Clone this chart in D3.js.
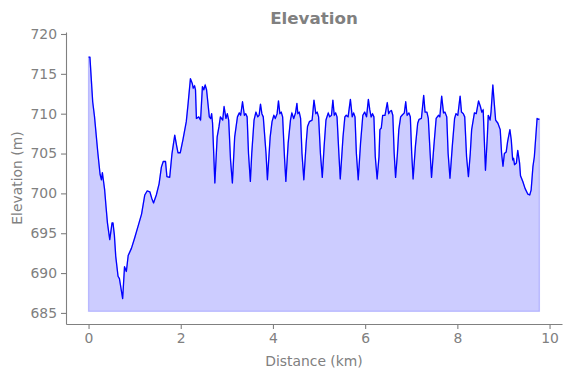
<!DOCTYPE html>
<html>
<head>
<meta charset="utf-8">
<script src="https://cdn.jsdelivr.net/npm/d3@7"></script>
<style>
  html, body { margin: 0; padding: 0; background: #fff; }
  svg { display: block; }
  text { font-family: "DejaVu Sans", sans-serif; }
</style>
</head>
<body>
<svg id="chart" width="571" height="378"></svg>
<script>
const distanceKm = [
  0.00,0.03,0.09,0.13,0.20,0.25,0.28,0.30,0.33,0.35,0.38,0.41,0.46,0.51,0.53,0.56,0.59,0.64,0.67,0.74,
  0.78,0.82,0.86,0.93,1.00,1.07,1.15,1.22,1.27,1.33,1.37,1.41,1.47,1.53,1.58,1.62,1.67,1.70,1.76,1.81,
  1.87,1.91,1.94,1.99,2.05,2.12,2.16,2.21,2.25,2.27,2.30,2.32,2.34,2.39,2.43,2.47,2.50,2.53,2.56,2.62,
  2.65,2.67,2.69,2.74,2.79,2.83,2.86,2.91,2.94,2.98,3.01,3.04,3.08,3.12,3.17,3.23,3.27,3.30,3.34,3.38,
  3.41,3.44,3.47,3.51,3.54,3.59,3.63,3.67,3.70,3.73,3.76,3.79,3.85,3.88,3.94,3.98,4.02,4.05,4.09,4.12,
  4.15,4.18,4.21,4.25,4.28,4.33,4.38,4.41,4.45,4.49,4.52,4.54,4.57,4.60,4.63,4.67,4.72,4.75,4.79,4.85,
  4.89,4.93,4.96,4.99,5.03,5.07,5.11,5.15,5.20,5.23,5.27,5.30,5.33,5.36,5.39,5.43,5.46,5.52,5.56,5.59,
  5.63,5.68,5.72,5.75,5.78,5.81,5.85,5.90,5.95,5.99,6.03,6.07,6.10,6.13,6.16,6.19,6.22,6.26,6.30,6.32,
  6.35,6.38,6.43,6.48,6.51,6.54,6.57,6.60,6.63,6.66,6.70,6.73,6.77,6.80,6.85,6.88,6.91,6.95,6.98,7.01,
  7.04,7.09,7.14,7.17,7.22,7.27,7.30,7.34,7.37,7.41,7.44,7.49,7.54,7.59,7.62,7.66,7.70,7.73,7.77,7.80,
  7.84,7.89,7.94,7.97,8.01,8.06,8.09,8.13,8.16,8.20,8.24,8.28,8.31,8.37,8.41,8.46,8.50,8.53,8.56,8.61,
  8.65,8.67,8.71,8.73,8.77,8.79,8.83,8.88,8.93,8.96,8.99,9.02,9.06,9.09,9.14,9.17,9.20,9.22,9.24,9.28,
  9.31,9.35,9.37,9.42,9.47,9.53,9.57,9.60,9.64,9.67,9.73,9.76,9.78
];
const elevationM = [
  717.1,717.1,711.5,709.6,705.2,702.4,701.7,702.6,701.3,700.4,698.3,696.3,694.2,696.3,696.3,694.8,692.1,689.6,689.3,686.8,
  690.8,690.2,692.2,693.1,694.4,695.8,697.4,699.8,700.3,700.2,699.4,698.8,699.8,701.2,703.3,704.0,704.0,702.1,702.0,705.0,
  707.3,706.0,705.1,705.1,706.8,709.0,711.3,714.4,713.8,713.2,713.5,713.0,709.4,709.6,709.2,713.4,713.0,713.6,713.0,709.6,
  709.4,710.0,708.8,701.3,707.1,708.4,709.6,709.2,710.9,709.4,710.0,709.2,704.2,701.3,707.1,709.6,710.1,709.8,711.5,709.8,
  710.0,709.6,705.0,701.5,705.0,709.2,710.2,709.6,709.8,711.2,710.0,709.6,705.0,701.7,707.1,709.0,709.8,709.4,710.0,711.6,
  710.0,710.2,709.6,704.6,701.5,706.3,709.2,710.1,709.4,710.1,711.3,710.0,710.2,709.4,705.0,701.7,706.3,708.4,709.0,709.2,
  711.7,710.0,710.2,709.6,705.0,702.0,705.9,709.2,710.1,709.6,709.8,711.7,709.8,710.1,709.6,705.0,701.8,707.1,709.6,709.8,
  709.6,711.8,709.6,710.1,709.6,705.0,701.7,706.3,709.8,710.2,709.6,711.8,710.5,709.6,710.0,709.6,704.6,701.8,704.6,708.0,
  708.2,709.8,709.8,711.4,710.0,710.3,710.4,709.8,705.0,702.0,705.0,708.0,709.6,709.8,710.1,711.5,709.8,710.1,709.6,705.0,
  701.8,705.9,708.8,709.3,709.4,712.3,710.2,710.2,709.4,705.0,702.0,705.9,709.4,709.8,709.6,712.2,710.1,710.2,709.6,705.0,
  701.9,705.9,709.4,710.0,709.8,712.2,710.2,710.0,709.6,704.6,702.1,705.0,708.0,710.1,710.0,711.6,710.9,710.2,710.5,702.9,
  707.1,709.8,709.2,710.2,713.6,712.1,709.2,708.8,708.0,705.0,703.4,705.0,705.2,706.5,708.0,706.7,704.2,704.4,703.6,703.8,
  705.4,703.8,702.2,701.5,700.6,699.9,699.8,700.4,703.4,704.6,709.4,709.3,709.3
];
const fillBase = 685.2;
const xTicks = [0, 2, 4, 6, 8, 10];
const yTicks = [685, 690, 695, 700, 705, 710, 715, 720];
const titleText = "Elevation";
const xLabel = "Distance (km)";
const yLabel = "Elevation (m)";

(function () {
  const data = distanceKm.map((d, i) => ({ x: d, y: elevationM[i] }));

  const svg = d3.select("#chart");
  const mLeft = 66, mRight = 562, mTop = 32, mBottom = 324;
  const textColor = "#808080";

  const x = d3.scaleLinear().domain([-0.489, 10.27]).range([mLeft, mRight]);
  const y = d3.scaleLinear().domain([683.61, 720.25]).range([mBottom, mTop]);

  const area = d3.area().x(d => x(d.x)).y0(y(fillBase)).y1(d => y(d.y));
  svg.append("path").datum(data)
    .attr("d", area)
    .attr("fill", "rgba(0,0,255,0.2)")
    .attr("stroke", "rgba(0,0,255,0.2)")
    .attr("stroke-width", 1.3);

  const line = d3.line().x(d => x(d.x)).y(d => y(d.y));
  svg.append("path").datum(data)
    .attr("d", line)
    .attr("fill", "none")
    .attr("stroke", "#0000ff")
    .attr("stroke-width", 1.3)
    .attr("stroke-linejoin", "round");

  const xAxis = svg.append("g").attr("transform", `translate(0,${mBottom})`)
    .call(d3.axisBottom(x).tickValues(xTicks).tickSize(5).tickPadding(4).tickSizeOuter(0));
  const yAxis = svg.append("g").attr("transform", `translate(${mLeft},0)`)
    .call(d3.axisLeft(y).tickValues(yTicks).tickSize(5).tickPadding(4).tickSizeOuter(0));

  [xAxis, yAxis].forEach(g => {
    g.select(".domain").attr("stroke", textColor).attr("stroke-width", 1.1);
    g.selectAll(".tick line").attr("stroke", textColor).attr("stroke-width", 1.1);
    g.selectAll(".tick text").attr("fill", textColor)
      .style("font-family", "'DejaVu Sans', sans-serif").style("font-size", "13.9px");
  });

  svg.append("text")
    .attr("x", (mLeft + mRight) / 2).attr("y", 24)
    .attr("text-anchor", "middle")
    .attr("fill", textColor)
    .style("font-size", "16.7px").style("font-weight", "bold")
    .text(titleText);

  svg.append("text")
    .attr("x", (mLeft + mRight) / 2).attr("y", 366)
    .attr("text-anchor", "middle")
    .attr("fill", textColor)
    .style("font-size", "13.9px")
    .text(xLabel);

  svg.append("text")
    .attr("transform", `translate(22,${(mTop + mBottom) / 2}) rotate(-90)`)
    .attr("text-anchor", "middle")
    .attr("fill", textColor)
    .style("font-size", "13.9px")
    .text(yLabel);
})();
</script>
</body>
</html>
